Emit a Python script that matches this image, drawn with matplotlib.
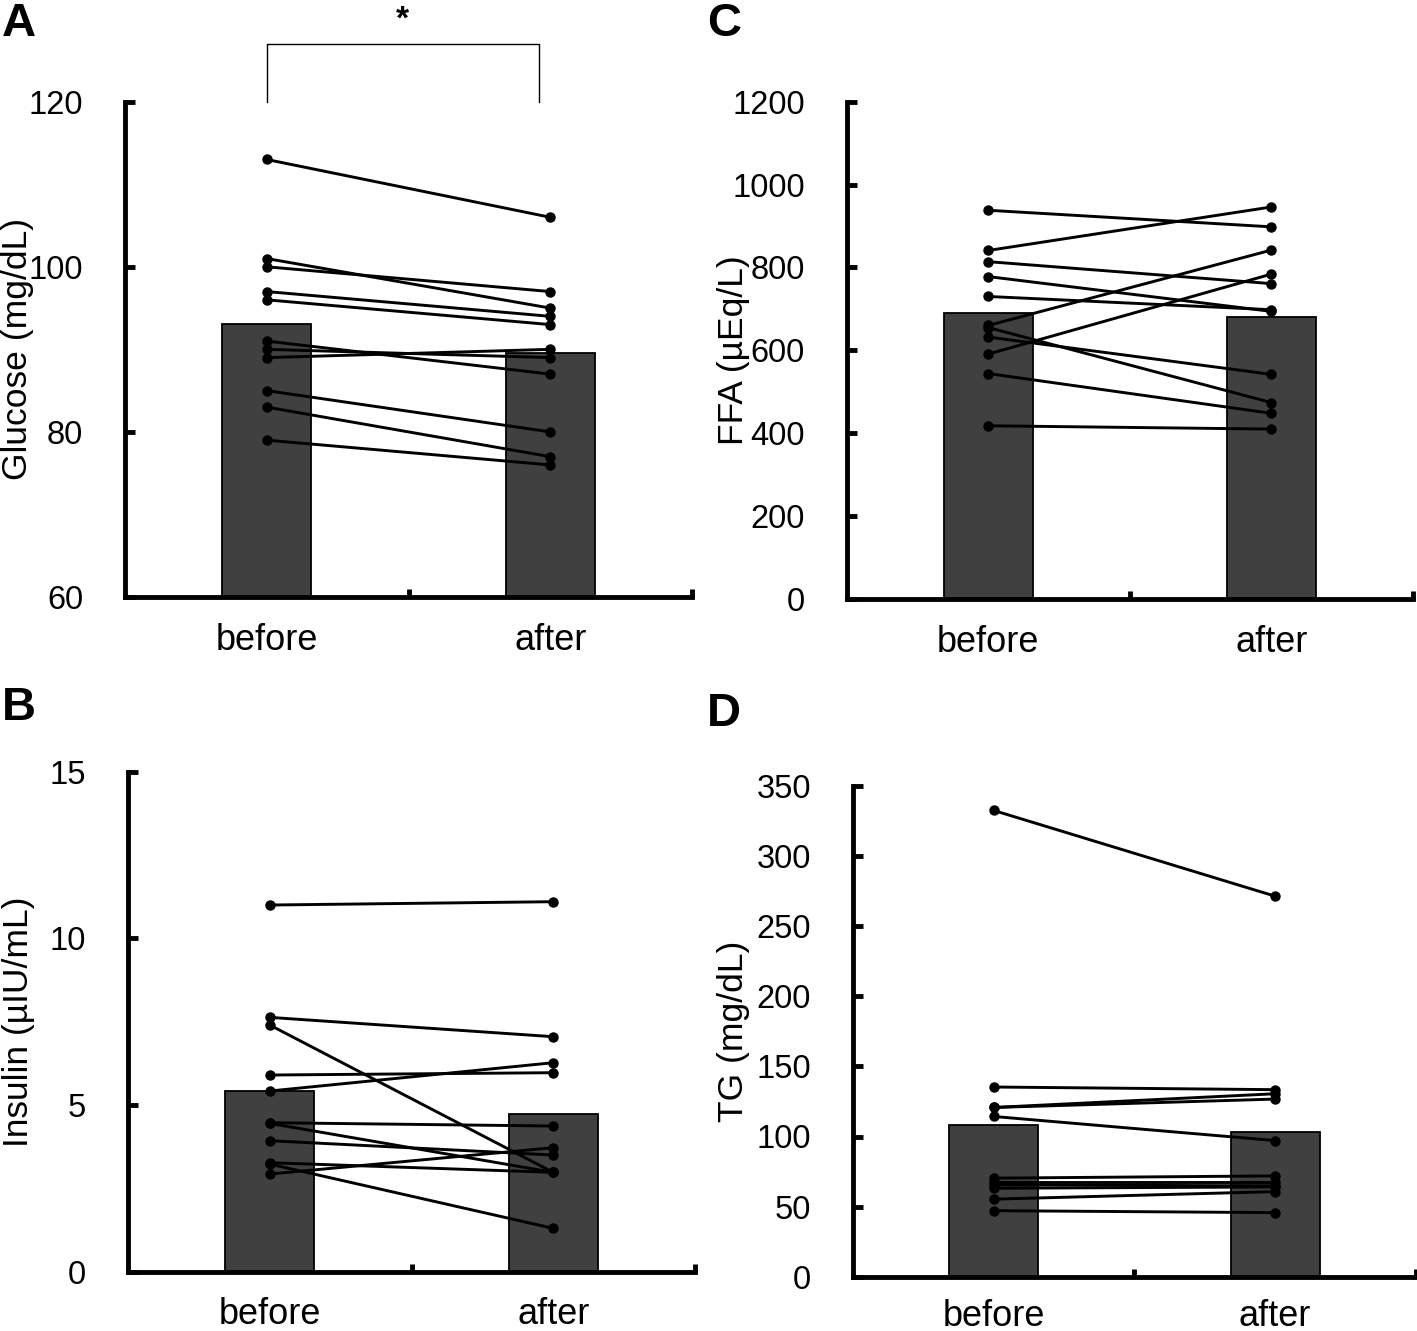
import matplotlib
matplotlib.use("Agg")
import matplotlib.pyplot as plt
from matplotlib.ticker import FixedLocator

plt.rcParams['font.family'] = ['Liberation Sans', 'DejaVu Sans']

categories = ["before", "after"]

# Panel A: Glucose
glucose_before = [113, 101, 100, 97, 96, 91, 90, 89, 85, 83, 79]
glucose_after = [106, 95, 97, 94, 93, 87, 89, 90, 80, 77, 76]
glucose_bar = [93.1, 89.5]

# Panel B: Insulin
insulin_before = [11.0, 7.63, 7.4, 5.9, 5.42, 4.47, 4.45, 3.93, 3.27, 3.23, 2.93]
insulin_after = [11.1, 7.05, 2.98, 5.97, 6.27, 4.37, 2.98, 3.5, 2.98, 1.3, 3.72]
insulin_bar = [5.43, 4.73]

# Panel C: FFA
ffa_before = [938, 841, 814, 778, 730, 660, 655, 632, 591, 544, 418]
ffa_after = [898, 946, 761, 694, 698, 842, 474, 542, 784, 448, 410]
ffa_bar = [690, 680]

# Panel D: TG
tg_before = [332.6, 135.3, 120.7, 120.7, 114.3, 70.3, 67.9, 65.5, 63.1, 55.3, 47.1]
tg_after = [271.4, 133.4, 130.5, 126.7, 97.1, 71.9, 67.9, 64.8, 64.0, 60.7, 45.7]
tg_bar = [107.9, 103.1]

W, H = 1417, 1331
fig = plt.figure(figsize=(W / 100, H / 100), dpi=100)


def px_axes(left, top, right, bottom):
    return fig.add_axes([left / W, 1 - bottom / H, (right - left) / W, (bottom - top) / H])


panels = [
    dict(box=(125, 101.7, 692, 597), before=glucose_before, after=glucose_after, bar=glucose_bar,
         ylim=(60, 120), yticks=[60, 80, 100, 120], ylabel="Glucose (mg/dL)", labelx=-0.16,
         letter="A", lx=2, ly=36, xpad=19),
    dict(box=(128, 771.7, 695, 1271.7), before=insulin_before, after=insulin_after, bar=insulin_bar,
         ylim=(0, 15), yticks=[0, 5, 10, 15], ylabel="Insulin (µIU/mL)", labelx=-0.164,
         letter="B", lx=2, ly=720, xpad=18),
    dict(box=(846.7, 101.7, 1413, 599), before=ffa_before, after=ffa_after, bar=ffa_bar,
         ylim=(0, 1200), yticks=[0, 200, 400, 600, 800, 1000, 1200], ylabel="FFA (µEq/L)", labelx=-0.171,
         letter="C", lx=707, ly=36, xpad=19),
    dict(box=(852.7, 786, 1416, 1276.7), before=tg_before, after=tg_after, bar=tg_bar,
         ylim=(0, 350), yticks=[0, 50, 100, 150, 200, 250, 300, 350], ylabel="TG (mg/dL)", labelx=-0.182,
         letter="D", lx=707, ly=726, xpad=16),
]

xpos = [0, 1]
for p in panels:
    ax = px_axes(*p["box"])
    ax.bar(xpos, p["bar"], width=0.315, color="#404040", edgecolor="black", linewidth=1.3, zorder=2)
    for b, a in zip(p["before"], p["after"]):
        ax.plot(xpos, [b, a], color="black", lw=2.1, marker="o", markersize=6.5, zorder=3, clip_on=False)
    ax.set_xlim(-0.5, 1.5)
    ax.set_ylim(*p["ylim"])
    ax.set_yticks(p["yticks"])
    ax.set_yticklabels([str(t) for t in p["yticks"]])
    ax.set_xticks(xpos)
    ax.set_xticklabels(categories)
    ax.xaxis.set_minor_locator(FixedLocator([0.5, 1.5]))
    for s in ["top", "right"]:
        ax.spines[s].set_visible(False)
    for s in ["left", "bottom"]:
        ax.spines[s].set_linewidth(3.5)
        ax.spines[s].set_capstyle("projecting")
    ax.tick_params(axis="y", direction="in", length=7, width=3.5, pad=30, labelsize=23.5)
    ax.tick_params(axis="x", which="major", length=0, pad=p["xpad"], labelsize=26)
    ax.tick_params(axis="x", which="minor", direction="in", length=6, width=3.5)
    ax.set_ylabel(p["ylabel"], fontsize=25.5)
    ax.yaxis.set_label_coords(p["labelx"], 0.5)
    fig.text(p["lx"] / W, 1 - p["ly"] / H, p["letter"], fontsize=34, fontweight="bold",
             ha="left", va="baseline")
    p["ax"] = ax

# significance bracket on panel A
axA = panels[0]["ax"]
axA.plot([0, 0, 0.96, 0.96], [120, 127, 127, 120], color="black", lw=1.0, clip_on=False)
axA.text(0.48, 128.0, "*", ha="center", va="bottom", fontsize=24, fontweight="bold")

fig.savefig("out.png", dpi=100)
